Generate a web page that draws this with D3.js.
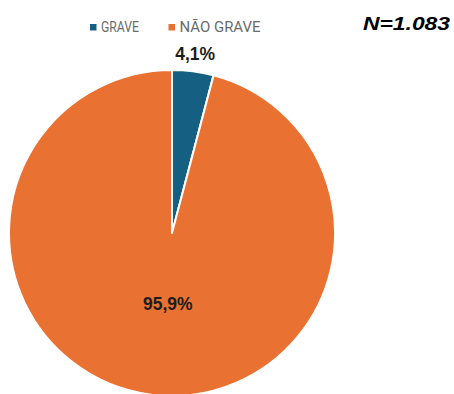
<!DOCTYPE html>
<html>
<head>
<meta charset="utf-8">
<script src="https://cdn.jsdelivr.net/npm/d3@7"></script>
<style>
  html, body { margin: 0; padding: 0; background: #fff; }
  svg { display: block; }
</style>
</head>
<body>
<svg id="chart" width="454" height="394"></svg>
<script>
// Severity share of the cases
const categories = ["GRAVE", "NÃO GRAVE"];
const values = [4.1, 95.9];
const valueLabels = ["4,1%", "95,9%"];
const colors = ["#156082", "#E97132"];
const totalLabel = "N=1.083";

const svg = d3.select("#chart");
const cx = 172, cy = 233, r = 163;

const pie = d3.pie().sort(null).value(d => d)(values);
const arc = d3.arc().innerRadius(0).outerRadius(r);

const g = svg.append("g").attr("transform", `translate(${cx},${cy})`);

g.selectAll("path.slice")
  .data(pie)
  .join("path")
  .attr("class", "slice")
  .attr("d", arc)
  .attr("fill", (d, i) => colors[i])
  .attr("stroke", "#fff")
  .attr("stroke-width", 2)
  .attr("stroke-linejoin", "round");

// Small slice gets its label outside the rim, the large one inside
const outerLabelArc = d3.arc().innerRadius(r + 17).outerRadius(r + 17);
const innerLabelArc = d3.arc().innerRadius(r * 0.44).outerRadius(r * 0.44);

g.selectAll("text.val")
  .data(pie)
  .join("text")
  .attr("class", "val")
  .attr("transform", (d, i) => {
    const c = (i === 0 ? outerLabelArc : innerLabelArc).centroid(d);
    return `translate(${c[0] + (i === 0 ? 0 : 5)},${c[1]})`;
  })
  .attr("text-anchor", "middle")
  .attr("dominant-baseline", "central")
  .attr("font-family", "'Liberation Sans', Arial, sans-serif")
  .attr("font-weight", "bold")
  .attr("font-size", 17.5)
  .attr("fill", "#1c1c1c")
  .text((d, i) => valueLabels[i]);

// Legend (narrow lettering)
const legendX = [90, 168.5];
const legendW = [38, 81];
const legend = svg.append("g");
categories.forEach((c, i) => {
  legend.append("rect")
    .attr("x", legendX[i])
    .attr("y", 24)
    .attr("width", 6.5)
    .attr("height", 6.5)
    .attr("fill", colors[i]);
  legend.append("text")
    .attr("x", legendX[i] + 11)
    .attr("y", 27.5)
    .attr("dominant-baseline", "central")
    .attr("font-family", "Roboto, 'Liberation Sans', sans-serif")
    .attr("font-size", 14.5)
    .attr("fill", "#6b6b6b")
    .attr("textLength", legendW[i])
    .attr("lengthAdjust", "spacingAndGlyphs")
    .text(c);
});

// Sample size
svg.append("text")
  .attr("x", 363)
  .attr("y", 23)
  .attr("dominant-baseline", "central")
  .attr("font-family", "'Liberation Sans', Arial, sans-serif")
  .attr("font-weight", "bold")
  .attr("font-style", "italic")
  .attr("font-size", 19)
  .attr("fill", "#000")
  .attr("textLength", 87)
  .attr("lengthAdjust", "spacingAndGlyphs")
  .text(totalLabel);
</script>
</body>
</html>
